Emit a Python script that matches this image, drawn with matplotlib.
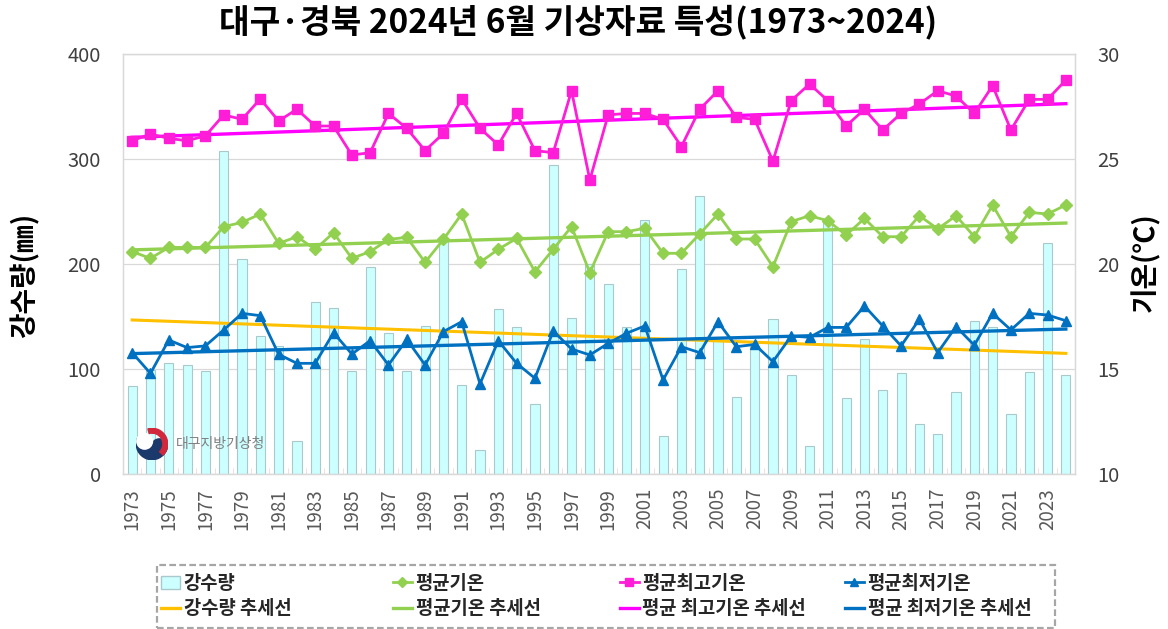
import numpy as np
import matplotlib
matplotlib.use("Agg")
import matplotlib.pyplot as plt
from matplotlib.patches import Circle, Wedge, Rectangle, Patch
from matplotlib.lines import Line2D

plt.rcParams['font.family'] = ['Noto Sans CJK KR', 'DejaVu Sans']

years = list(range(1973, 2025))
rain = [84, 99, 106, 104, 98, 308, 205, 131, 122, 31,
        164, 158, 98, 197, 134, 98, 141, 222, 85, 23,
        157, 140, 67, 294, 149, 200, 181, 140, 242, 36,
        195, 265, 128, 73, 122, 148, 94, 27, 240, 72,
        129, 80, 96, 48, 38, 78, 146, 140, 57, 97,
        220, 94]
tavg = [20.59, 20.27, 20.79, 20.79, 20.79, 21.78, 21.98, 22.38, 20.98, 21.30,
        20.70, 21.49, 20.27, 20.59, 21.17, 21.27, 20.08, 21.17, 22.38, 20.08,
        20.70, 21.22, 19.63, 20.70, 21.78, 19.59, 21.54, 21.54, 21.70, 20.51,
        20.51, 21.43, 22.38, 21.19, 21.19, 19.87, 22.02, 22.30, 22.06, 21.38,
        22.17, 21.30, 21.30, 22.30, 21.67, 22.30, 21.30, 22.81, 21.30, 22.46,
        22.38, 22.81]
tmax = [25.87, 26.19, 25.98, 25.87, 26.10, 27.10, 26.89, 27.86, 26.81, 27.37,
        26.57, 26.57, 25.19, 25.30, 27.17, 26.46, 25.40, 26.22, 27.86, 26.46,
        25.67, 27.17, 25.40, 25.30, 28.25, 24.00, 27.10, 27.17, 27.17, 26.89,
        25.59, 27.37, 28.25, 26.98, 26.89, 24.90, 27.78, 28.57, 27.78, 26.57,
        27.37, 26.38, 27.17, 27.62, 28.25, 28.00, 27.17, 28.49, 26.38, 27.84,
        27.84, 28.76]
tmin = [15.78, 14.79, 16.38, 16.02, 16.10, 16.86, 17.65, 17.54, 15.70, 15.27,
        15.27, 16.73, 15.71, 16.35, 15.19, 16.41, 15.19, 16.78, 17.25, 14.29,
        16.35, 15.27, 14.56, 16.81, 15.95, 15.67, 16.22, 16.70, 17.05, 14.48,
        16.06, 15.78, 17.25, 16.06, 16.17, 15.35, 16.57, 16.51, 16.98, 16.98,
        18.00, 17.05, 16.10, 17.37, 15.78, 17.02, 16.13, 17.65, 16.86, 17.65,
        17.57, 17.30]

title = '대구·경북 2024년 6월 기상자료 특성(1973~2024)'
left_label = '강수량(㎜)'
right_label = '기온(℃)'
legend_cols = [['강수량', '강수량 추세선'], ['평균기온', '평균기온 추세선'],
               ['평균최고기온', '평균 최고기온 추세선'], ['평균최저기온', '평균 최저기온 추세선']]

C_BAR = '#CCFFFF'
C_BAR_EDGE = '#A9C9CC'
C_GREEN = '#92D050'
C_MAG = '#FF1DD8'
C_MAG_T = '#FF00FF'
C_BLUE = '#0070C0'
C_YEL = '#FFC000'

W, H = 1168, 629
fig = plt.figure(figsize=(W/100, H/100), dpi=100)
ax = fig.add_axes([123/W, 1-474/H, (1075-123)/W, (474-54)/H])
ax2 = ax.twinx()

x = np.arange(len(years))
ax.bar(x, rain, width=0.5, color=C_BAR, edgecolor=C_BAR_EDGE, linewidth=0.8, zorder=2)

def trend(vals):
    p = np.polyfit(x, vals, 1)
    return np.polyval(p, x)

ax.plot(x, trend(rain), color=C_YEL, lw=2.2, zorder=3)
ax.set_ylim(0, 400)
ax.set_yticks([0, 100, 200, 300, 400])
ax.set_xlim(-0.5, len(years) - 0.5)
ax.grid(axis='y', color='#D9D9D9', lw=0.9, zorder=0)
ax.set_axisbelow(True)

ax2.plot(x, tavg, color=C_GREEN, lw=2, marker='D', ms=6.5, zorder=4)
ax2.plot(x, tmax, color=C_MAG, lw=2, marker='s', ms=7, zorder=4)
ax2.plot(x, tmin, color=C_BLUE, lw=2, marker='^', ms=7.5, zorder=4)
ax2.plot(x, trend(tavg), color=C_GREEN, lw=2.4, zorder=3)
ax2.plot(x, trend(tmax), color=C_MAG_T, lw=2.4, zorder=3)
ax2.plot(x, trend(tmin), color=C_BLUE, lw=2.4, zorder=3)
ax2.set_ylim(10, 30)
ax2.set_yticks([10, 15, 20, 25, 30])

for a in (ax, ax2):
    for s in a.spines.values():
        s.set_color('#D9D9D9')
        s.set_linewidth(0.9)

ax.set_xticks(x[::2])
ax.set_xticklabels([str(y) for y in years[::2]], rotation=90, fontsize=13.5, color='#595959')
ax.set_xticks(np.arange(-0.5, len(years), 1), minor=True)
ax.tick_params(axis='x', which='major', length=0, pad=10)
ax.tick_params(axis='x', which='minor', length=4, direction='in', color='#F0D8D8')
ax.tick_params(axis='y', length=0, labelsize=14.5, labelcolor='#404040', pad=16)
ax2.tick_params(axis='y', length=0, labelsize=14.5, labelcolor='#404040', pad=16)

fig.text(578/W, 1-22/H, title, ha='center', va='center', fontsize=24, fontweight='bold', color='#000000')
fig.text(25/W, 1-275/H, left_label, ha='center', va='center', rotation=90, fontsize=20, fontweight='bold')
fig.text(1145/W, 1-262/H, right_label, ha='center', va='center', rotation=90, fontsize=20, fontweight='bold')

# logo
logo_ax = fig.add_axes([(152-16)/W, 1-(444+16)/H, 32/W, 32/H])
logo_ax.set_xlim(-1, 1); logo_ax.set_ylim(-1, 1); logo_ax.axis('off')
logo_ax.add_patch(Wedge((0, 0), 0.98, 160, 340, color='#1B3A6B'))
logo_ax.add_patch(Circle((0.46, -0.17), 0.49, color='#1B3A6B'))
logo_ax.add_patch(Circle((-0.46, 0.17), 0.49, color='white'))
logo_ax.add_patch(Wedge((0, 0), 0.98, -45, 105, width=0.3, color='#D2283C'))
fig.text(176/W, 1-444/H, '대구지방기상청', ha='left', va='center', fontsize=10, color='#7F7F7F')

# legend (manual columns inside a dashed frame)
fig.patches.append(Rectangle((157/W, 1-628/H), (1055-157)/W, (628-565)/H,
                             transform=fig.transFigure, fill=False,
                             edgecolor='#A6A6A6', lw=1.6, linestyle=(0, (3, 1.5))))
col_handles = [
    [Patch(facecolor=C_BAR, edgecolor=C_BAR_EDGE), Line2D([], [], color=C_YEL, lw=2.4)],
    [Line2D([], [], color=C_GREEN, lw=2, marker='D', ms=5), Line2D([], [], color=C_GREEN, lw=2.4)],
    [Line2D([], [], color=C_MAG, lw=2, marker='s', ms=6), Line2D([], [], color=C_MAG_T, lw=2.4)],
    [Line2D([], [], color=C_BLUE, lw=2, marker='^', ms=6), Line2D([], [], color=C_BLUE, lw=2.4)],
]
col_x = [161, 393, 620, 845]
for cx, hs, labs in zip(col_x, col_handles, legend_cols):
    lg = fig.legend(hs, labs, loc='center left', bbox_to_anchor=(cx/W, 1-596/H),
                    fontsize=13.5, handlelength=1.0, handletextpad=0.2,
                    labelspacing=0.35, frameon=False, borderpad=0.0, borderaxespad=0.0)
    for t in lg.get_texts():
        t.set_color('#262626')
        t.set_fontweight('bold')

fig.savefig('out.png', dpi=100)
